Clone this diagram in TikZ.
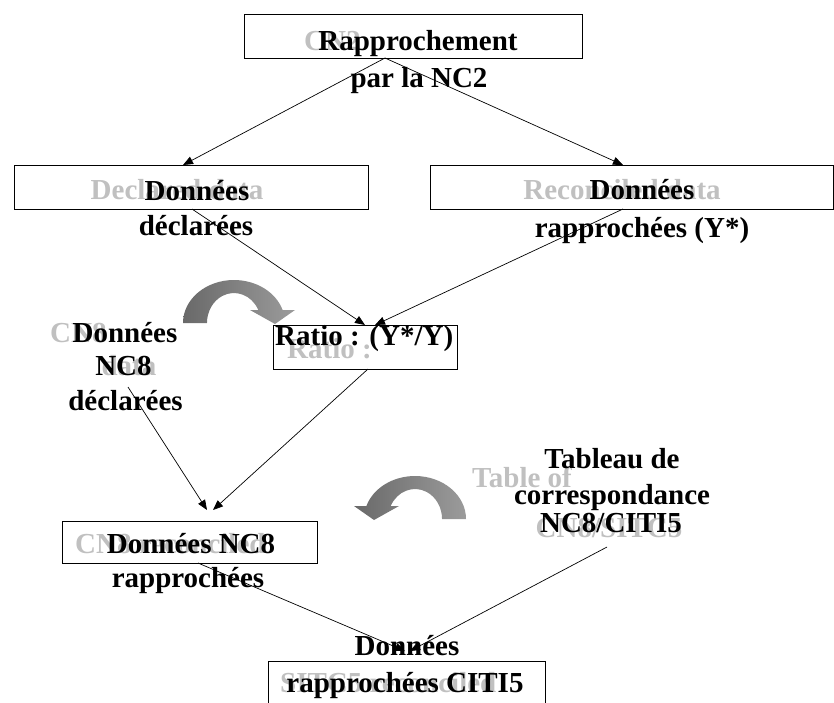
\documentclass[tikz,border=0pt]{standalone}
\usepackage{fontspec}
\setmainfont{Liberation Serif}
\usetikzlibrary{arrows.meta}
\definecolor{ghost}{RGB}{192,192,192}
\definecolor{arrdark}{RGB}{105,105,105}
\definecolor{arrlight}{RGB}{155,155,155}
\tikzset{
  box/.style={draw=black, line width=0.8pt, inner sep=0pt},
  lbl/.style={font=\fontsize{29}{34}\selectfont\bfseries, inner sep=0pt, anchor=base},
  ghosttxt/.style={lbl, text=ghost},
  conn/.style={line width=0.7pt, -{Triangle[length=10pt,width=8pt]}},
  curvedarrow/.style={left color=arrdark, right color=arrlight, draw=none},
}
\begin{document}
\begin{tikzpicture}[x=1pt,y=-1pt]
\useasboundingbox (0,0) rectangle (834,702);
\clip (0,0) rectangle (834,702);

% boxes
\node[box, minimum width=338pt, minimum height=44pt] (topbox) at (413,36) {};
\node[box, minimum width=354pt, minimum height=44pt] (declbox) at (191,187) {};
\node[box, minimum width=403pt, minimum height=44pt] (reconbox) at (631.5,187) {};
\node[box, minimum width=184pt, minimum height=44pt] (ratiobox) at (365,347) {};
\node[box, minimum width=255pt, minimum height=42pt] (nc8box) at (189.5,542) {};
\node[box, minimum width=277pt, minimum height=59pt] (citibox) at (406.5,690.5) {};

% grey texts
\node[ghosttxt, anchor=base west] (gcn2) at (304,50) {CN2};
\node[ghosttxt] (gdecl) at (177,199) {Declared data};
\node[ghosttxt] (grecon) at (622,199) {Reconciled data};
\node[ghosttxt, anchor=base west] (gratio) at (287,358) {Ratio :};
\node[ghosttxt, anchor=base west] (gcn8a) at (50,342) {CN8};
\node[ghosttxt] (gcn8b) at (129,375) {data};
\node[ghosttxt, anchor=base west] (gcn8r) at (75,553) {CN8 reconciled};
\node[ghosttxt, anchor=base west] (gtab) at (472,487) {Table of};
\node[ghosttxt] (gtab2) at (609,537) {CN8/SITC5};
\node[ghosttxt, anchor=base west] (gsitc) at (280,692) {SITC5 reconciled};

% black texts
\node[lbl] (t1a) at (418,50) {Rapprochement};
\node[lbl] (t1b) at (419,87) {par la NC2};
\node[lbl] (t2a) at (197,200) {Données};
\node[lbl] (t2b) at (196,235) {déclarées};
\node[lbl] (t3a) at (642,199) {Données};
\node[lbl] (t3b) at (642,237) {rapprochées (Y*)};
\node[lbl, anchor=base west] (t4) at (275,345) {Ratio : (Y*/Y)};
\node[lbl] (t5a) at (125,342) {Données};
\node[lbl] (t5b) at (123.5,375) {NC8};
\node[lbl] (t5c) at (125.5,410) {déclarées};
\node[lbl] (t6a) at (191,553) {Données NC8};
\node[lbl] (t6b) at (188,587) {rapprochées};
\node[lbl] (t7a) at (612,468) {Tableau de};
\node[lbl] (t7b) at (612,504) {correspondance};
\node[lbl] (t7c) at (611,532) {NC8/CITI5};
\node[lbl] (t8a) at (407,655) {Données};
\node[lbl] (t8b) at (405,692) {rapprochées CITI5};

% curved arrows
\shade[curvedarrow] (183,323) arc[start angle=180, end angle=342.4, x radius=51, y radius=43]
  -- (295,310) -- (275,324) -- (250,310) -- (258.3,310)
  arc[start angle=334.3, end angle=180, x radius=27, y radius=30] -- cycle;
\begin{scope}[shift={(649,196)}, xscale=-1]
\shade[curvedarrow] (183,323) arc[start angle=180, end angle=342.4, x radius=51, y radius=43]
  -- (295,310) -- (275,324) -- (250,310) -- (258.3,310)
  arc[start angle=334.3, end angle=180, x radius=27, y radius=30] -- cycle;
\end{scope}

% connector end points
\coordinate (topout) at (385,58);
\coordinate (declin) at (183,165);
\coordinate (reconin) at (623,165);
\coordinate (declout) at (192,209);
\coordinate (reconout) at (623,209);
\coordinate (ratioinL) at (365,325);
\coordinate (ratioinR) at (375,325);
\coordinate (cn8out) at (128,387);
\coordinate (ratioout) at (368,369);
\coordinate (nc8inL) at (207,510);
\coordinate (nc8inR) at (213,510);
\coordinate (nc8out) at (198,563);
\coordinate (tabout) at (607,547);
\coordinate (citiinL) at (405,651);
\coordinate (citiinR) at (410,651);

\draw[conn] (topout) -- (declin);
\draw[conn] (topout) -- (reconin);
\draw[conn] (declout) -- (ratioinL);
\draw[conn] (reconout) -- (ratioinR);
\draw[conn] (cn8out) -- (nc8inL);
\draw[conn] (ratioout) -- (nc8inR);
\draw[conn] (nc8out) -- (citiinL);
\draw[conn] (tabout) -- (citiinR);
\end{tikzpicture}
\end{document}
